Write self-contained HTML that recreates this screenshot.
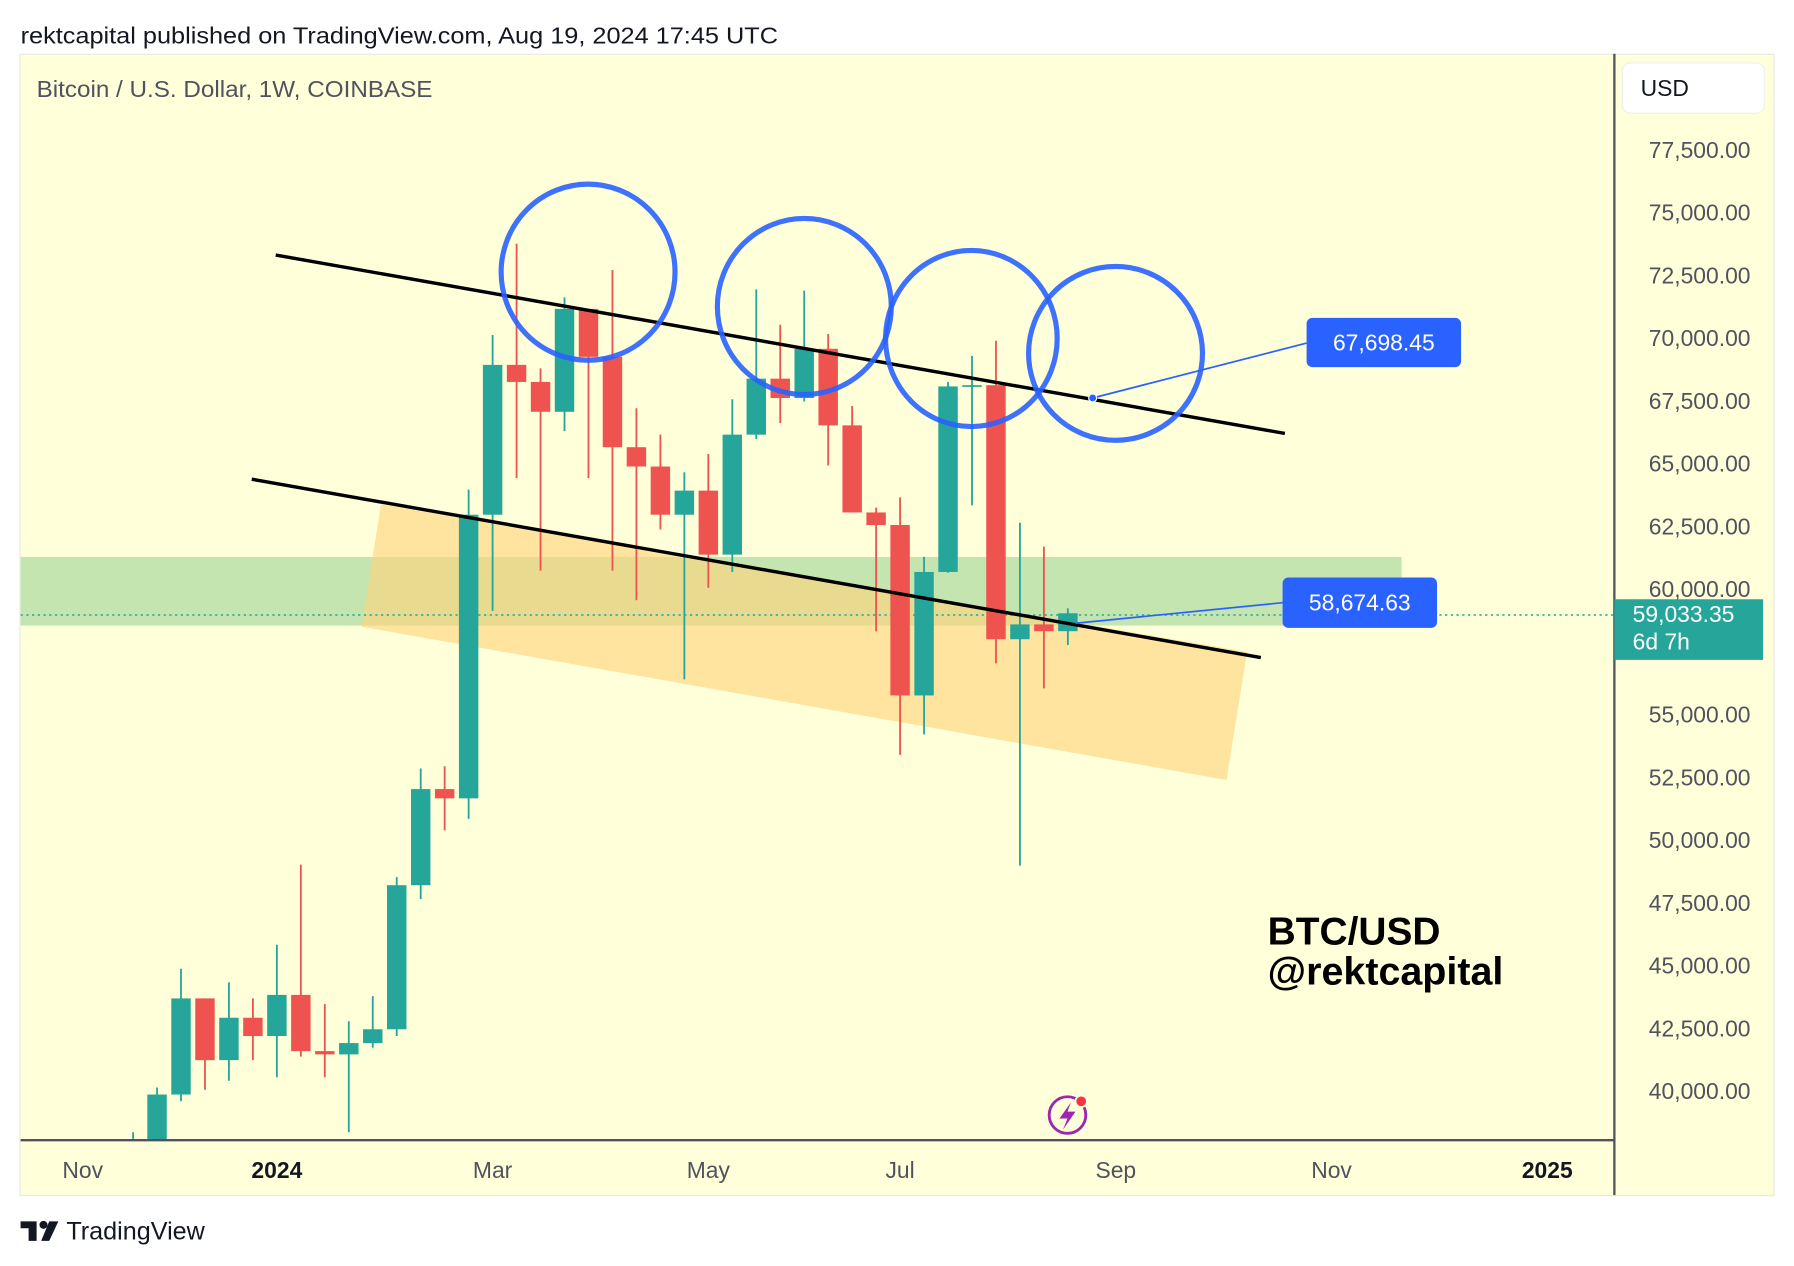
<!DOCTYPE html>
<html><head><meta charset="utf-8"><style>
html,body{margin:0;padding:0;background:#fff;}
svg{display:block;font-family:"Liberation Sans",sans-serif;}
</style></head><body>
<svg id="chart" width="1794" height="1266" viewBox="0 0 1568 1107" preserveAspectRatio="none" xmlns="http://www.w3.org/2000/svg">
<rect x="0" y="0" width="1568" height="1107" fill="#ffffff"/>
<text x="18" y="38" font-size="20" fill="#131722" textLength="662" lengthAdjust="spacingAndGlyphs">rektcapital published on TradingView.com, Aug 19, 2024 17:45 UTC</text>
<rect x="17.5" y="47.5" width="1533" height="998" fill="#ffffd9" stroke="#e8e8e0"/>
<g id="plot"></g>
<line x1="1411" y1="47" x2="1411" y2="1045" stroke="#50535e" stroke-width="2"/>
<line x1="18" y1="997" x2="1411" y2="997" stroke="#50535e" stroke-width="2"/>
<text x="32" y="85" font-size="20" fill="#50535e" textLength="346" lengthAdjust="spacingAndGlyphs">Bitcoin / U.S. Dollar, 1W, COINBASE</text>
<rect x="1418" y="55" width="124" height="44" rx="7" fill="#fff" stroke="#eceff2"/>
<text x="1434" y="84" font-size="20" fill="#131722">USD</text>
<g id="yticks"></g>
<g id="xticks"></g>
<text x="1108" y="826" font-size="34" font-weight="bold" fill="#000">BTC/USD</text>
<text x="1108" y="861" font-size="34" font-weight="bold" fill="#000" textLength="206" lengthAdjust="spacingAndGlyphs">@rektcapital</text>
<g>
<circle cx="933" cy="975" r="16" fill="none" stroke="#9c27b0" stroke-width="2.5"/>
<path d="M936 964 L926 978 L933 978 L929 988 L940 972 L933 972 Z" fill="#9c27b0"/>
<circle cx="945" cy="963" r="5" fill="#f23645" stroke="#ffffd9" stroke-width="1.5"/>
</g>
<g>
<path d="M18 1068 h14 v17 h-7 v-11 h-7 z" fill="#131722"/><circle cx="38" cy="1071" r="3.5" fill="#131722"/><path d="M43 1068 h8 l-8 17 h-7 z" fill="#131722"/>
<text x="58" y="1084" font-size="22" fill="#131722">TradingView</text>
</g>
</svg>
<script>
const weeks = [-6,-5,-4,-3,-2,-1,0,1,2,3,4,5,6,7,8,9,10,11,12,13,14,15,16,17,18,19,20,21,22,23,24,25,26,27,28,29,30,31,32,33];
const opens = [37000,37700,39860,43690,41230,42920,42190,43830,41590,41460,41910,42460,48200,52030,51660,62960,68930,68250,67060,71160,69250,65650,64880,62960,63920,61370,66150,68380,67610,69570,66520,63050,62550,55760,60680,68070,68120,58000,58590,58320];
const highs = [38360,40140,44870,43690,44330,43690,45830,49020,43460,42780,43780,48520,52850,52940,63960,70120,73760,68790,71620,71160,72710,67200,66150,64650,65380,67560,71940,70530,71890,70160,67290,63240,63650,61280,68250,69290,69890,62640,61690,59230];
const lows = [36500,37500,39600,40050,40410,41230,40550,41370,40550,38360,41730,42190,47650,50390,50840,59130,64420,60730,66290,64420,60730,59550,62370,56400,60050,60680,65970,66610,67470,64920,63050,58310,53390,54210,60650,63330,57040,48980,56040,57770];
const closes = [37700,39860,43690,41230,42920,42190,43830,41590,41460,41910,42460,48200,52030,51660,62960,68930,68250,67060,71160,69250,65650,64880,62960,63920,61370,66150,68380,67610,69570,66520,63050,62550,55760,60680,68070,68120,58000,58590,58320,59033.35];
const priceTicks = [40000,42500,45000,47500,50000,52500,55000,57500,60000,62500,65000,67500,70000,72500,75000,77500];
const timeLabels = ["Nov","2024","Mar","May","Jul","Sep","Nov","2025"];
const timeWeeks = [-8.1,0,9,18,26,35,44,53];
const NS="http://www.w3.org/2000/svg";
function y(p){return 954-(p-40000)/2500*54.87;}
function x(w){return 242+20.95*w;}
function mk(tag,attrs,parent){const e=document.createElementNS(NS,tag);for(const k in attrs)e.setAttribute(k,attrs[k]);parent.appendChild(e);return e;}
const plot=document.getElementById('plot');
const defs=mk('defs',{},plot);
const cp=mk('clipPath',{id:'clip'},defs);mk('rect',{x:18,y:47,width:1393,height:950},cp);
const g=mk('g',{'clip-path':'url(#clip)'},plot);
let e;
e=mk('rect',{x:18,y:487,width:1207,height:60,fill:'#c5e5b0'},g);


e=mk('polygon',{points:'333,441 1090,570 1072,682 316,548',fill:'#ffd27a',opacity:'0.6'},g);


e=mk('line',{x1:18,y1:y(59033.35)+1.5,x2:1411,y2:y(59033.35)+1.5,stroke:'#26a69a','stroke-width':1.3,'stroke-dasharray':'2 3'},g);


for(let i=0;i<weeks.length;i++){
  const up=closes[i]>=opens[i];const col=up?'#26a69a':'#ef5350';const cx=x(weeks[i]);
  const cg=mk('g',{},g);
  
  
  mk('line',{x1:cx,y1:y(highs[i]),x2:cx,y2:y(lows[i]),stroke:col,'stroke-width':1.6},cg);
  const t=y(Math.max(opens[i],closes[i])),b=y(Math.min(opens[i],closes[i]));
  mk('rect',{x:cx-8.5,y:t,width:17,height:Math.max(1.5,b-t),fill:col},cg);
}
e=mk('line',{x1:241,y1:223,x2:1123,y2:379,stroke:'#000','stroke-width':3},g);


e=mk('line',{x1:220,y1:419,x2:1102,y2:575,stroke:'#000','stroke-width':3},g);


[[514,238,76,77],[703,268,76,77],[849,296,75,77],[975,309,76,76]].forEach(c=>{
  e=mk('ellipse',{cx:c[0],cy:c[1],rx:c[2],ry:c[3],fill:'none',stroke:'#2962ff','stroke-width':4.5,opacity:'0.9'},g);
  
  
});
mk('line',{x1:955,y1:348,x2:1142,y2:300,stroke:'#2962ff','stroke-width':1.5},g);
mk('circle',{cx:955,cy:348,r:3.5,fill:'#2962ff',stroke:'#fff'},g);
mk('line',{x1:940,y1:545,x2:1121,y2:527,stroke:'#2962ff','stroke-width':1.5},g);
function label(x0,y0,w,h,txt,name){const lg=mk('g',{},plot);
 mk('rect',{x:x0,y:y0,width:w,height:h,rx:5,fill:'#2962ff'},lg);
 const t=mk('text',{x:x0+w/2,y:y0+h/2+7,'font-size':20,fill:'#fff','text-anchor':'middle'},lg);t.textContent=txt;}
label(1142,278,135,43,'67,698.45','price-label-upper');
label(1121,505,135,44,'58,674.63','price-label-lower');
const yt=document.getElementById('yticks');
priceTicks.forEach(p=>{if(Math.abs(p-57500)<1)return;const t=mk('text',{x:1530,y:y(p)+7,'font-size':20,fill:'#50535e','text-anchor':'end'},yt);t.textContent=p.toLocaleString('en-US',{minimumFractionDigits:2});});
mk('rect',{x:1411,y:524,width:130,height:53,fill:'#26a69a'},yt);
let t=mk('text',{x:1427,y:544,'font-size':20,fill:'#fff'},yt);t.textContent='59,033.35';
t=mk('text',{x:1427,y:568,'font-size':20,fill:'#fff'},yt);t.textContent='6d 7h';
const xt=document.getElementById('xticks');
timeLabels.forEach((l,i)=>{const bold=/^\d/.test(l);const tt=mk('text',{x:x(timeWeeks[i]),y:1030,'font-size':20,fill:bold?'#131722':'#50535e','font-weight':bold?'bold':'normal','text-anchor':'middle'},xt);tt.textContent=l;});
</script>
</body></html>
